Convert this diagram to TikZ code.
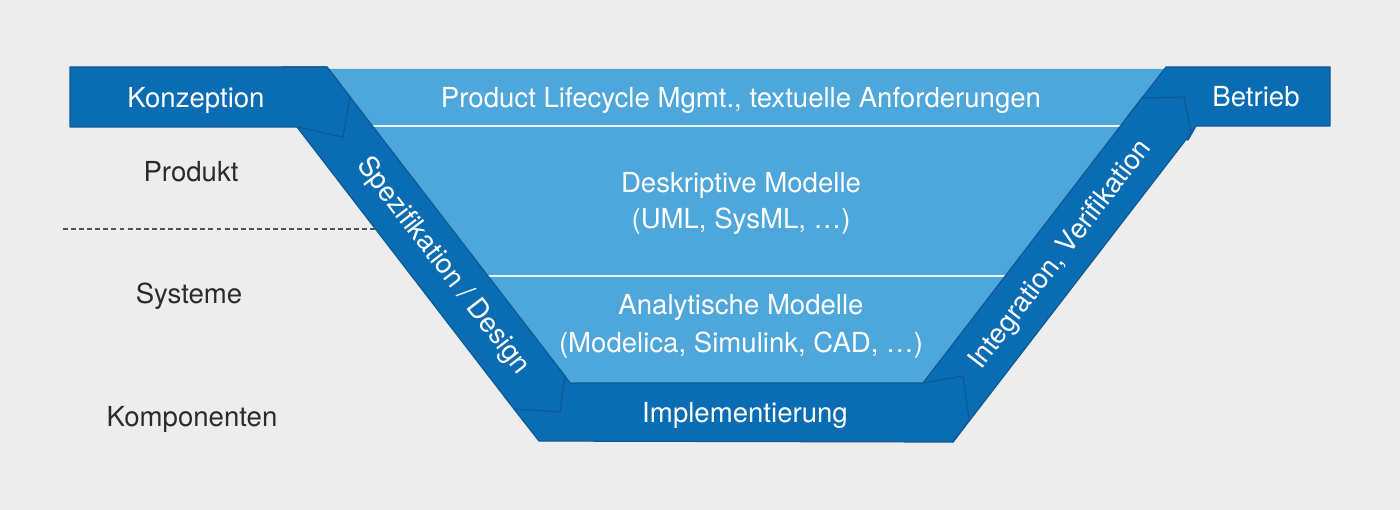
\documentclass[tikz,border=0pt]{standalone}
\usepackage{fontspec}
\setmainfont{TeX Gyre Heros}
\definecolor{vblue}{HTML}{0A6DB3}
\definecolor{vlight}{HTML}{4EA7DB}
\definecolor{vedge}{HTML}{0A5A96}
\definecolor{bgray}{HTML}{EDEDED}
\definecolor{ink}{HTML}{2B2B2B}
\definecolor{subink}{HTML}{555555}

\begin{document}
\begin{tikzpicture}[
    x=0.02cm, y=-0.02cm,
    every node/.style={font=\fontsize{15.7}{18}\selectfont, inner sep=0pt},
    % dark stage segment of the V
    seg/.style={fill=vblue, draw=vedge, line width=0.7pt, line join=round},
    % white text on the blue areas
    lbl/.style={text=white, anchor=base},
    % level names on the left
    lvl/.style={text=ink, anchor=base},
    % thin line between the model layers
    sep/.style={draw=white!88!vlight, line width=1.1pt},
    % dashed level border
    dline/.style={draw=subink, line width=0.6pt, dash pattern=on 2.8pt off 1.8pt}
]

% ---------- Background ----------
\fill[bgray] (0,0) rectangle (1400,510);

% ---------- Level border ----------
\draw[dline] (63,229) -- (376,229);

% ---------- Model area ----------
\fill[vlight] (327,69) -- (1166,69) -- (923,383) -- (570,383) -- cycle;
\draw[sep] (360,126) -- (1135,126);
\draw[sep] (480,276) -- (1015,276);

% ---------- Stages (back to front) ----------
% Betrieb
\draw[seg] (1166,67) -- (1330,67) -- (1330,126) -- (1196,126) -- (1188,140) -- (1125,120) -- cycle;
% Integration, Verifikation
\draw[seg] (923,383) -- (1142,98) -- (1184,97) -- (1191,133) -- (953,442) -- cycle;
% Implementierung
\draw[seg] (539,441) -- (514,409) -- (565,376) -- (570,383) -- (923,383) -- (963,376) -- (969,420) -- (953,442) -- cycle;
% Spezifikation / Design
\draw[seg] (282,67) -- (327,67) -- (565,376) -- (560,412) -- (514,409) -- (297,127) -- cycle;
% Konzeption
\draw[seg] (70,67) -- (327,67) -- (350,97) -- (343,137) -- (297,127) -- (70,127) -- cycle;

% ---------- Stage labels ----------
\node[lbl] (konz) at (196,108) {Konzeption};
\node[lbl] (betr) at (1256,107) {Betrieb};
\node[lbl] (impl) at (745,422) {Implementierung};
\node[text=white, rotate=-52.4] (spez) at (443,266) {Spezifikation / Design};
\node[text=white, rotate=52.4] (integ) at (1061,255) {Integration, Verifikation};

% ---------- Model layers ----------
\node[lbl] (plm) at (741,108) {Product Lifecycle Mgmt., textuelle Anforderungen};
\node[lbl] (deskr) at (741,193) {Deskriptive Modelle};
\node[lbl] (deskrb) at (741,228) {(UML, SysML, …)};
\node[lbl] (analyt) at (741,314) {Analytische Modelle};
\node[lbl] (analytb) at (741,352) {(Modelica, Simulink, CAD, …)};

% ---------- Levels ----------
\node[lvl] (prod) at (191,181) {Produkt};
\node[lvl] (syst) at (189,303) {Systeme};
\node[lvl] (komp) at (192,426) {Komponenten};

\end{tikzpicture}
\end{document}
